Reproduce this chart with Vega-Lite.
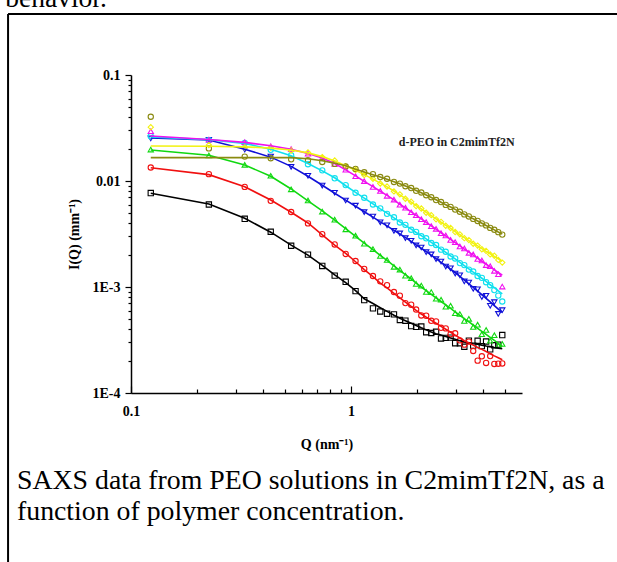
{
  "$schema": "https://vega.github.io/schema/vega-lite/v6.json",
  "width": 391,
  "height": 318,
  "autosize": {"type": "none"},
  "padding": {"left": 131, "top": 75, "right": 95, "bottom": 169},
  "background": "white",
  "config": {"view": {"stroke": null}, "font": "Liberation Serif"},
  "datasets": {
    "pts": [
      {"s":"S1","Q":0.123,"I":0.0077,"F":0.00766},{"s":"S1","Q":0.226,"I":0.006,"F":0.00607},{"s":"S1","Q":0.329,"I":0.0044,"F":0.00445},{"s":"S1","Q":0.432,"I":0.00332,"F":0.00329},{"s":"S1","Q":0.535,"I":0.00245,"F":0.00248},{"s":"S1","Q":0.638,"I":0.00202,"F":0.002},{"s":"S1","Q":0.741,"I":0.00158,"F":0.0016},{"s":"S1","Q":0.844,"I":0.00128,"F":0.0013},{"s":"S1","Q":0.947,"I":0.00112,"F":0.0011},{"s":"S1","Q":1.05,"I":0.000915,"F":0.000923},{"s":"S1","Q":1.15,"I":0.000752,"F":0.000775},{"s":"S1","Q":1.26,"I":0.000628,"F":0.000698},{"s":"S1","Q":1.36,"I":0.000587,"F":0.000638},{"s":"S1","Q":1.46,"I":0.00056,"F":0.000589},{"s":"S1","Q":1.57,"I":0.000552,"F":0.000541},{"s":"S1","Q":1.67,"I":0.000488,"F":0.000508},{"s":"S1","Q":1.77,"I":0.000481,"F":0.000481},{"s":"S1","Q":1.88,"I":0.000428,"F":0.000455},{"s":"S1","Q":1.98,"I":0.000421,"F":0.000434},{"s":"S1","Q":2.09,"I":0.000424,"F":0.000412},{"s":"S1","Q":2.2,"I":0.000374,"F":0.000394},{"s":"S1","Q":2.32,"I":0.000368,"F":0.000376},{"s":"S1","Q":2.44,"I":0.000378,"F":0.000363},{"s":"S1","Q":2.57,"I":0.000327,"F":0.000352},{"s":"S1","Q":2.7,"I":0.000331,"F":0.000341},{"s":"S1","Q":2.84,"I":0.000333,"F":0.00033},{"s":"S1","Q":2.98,"I":0.000295,"F":0.000321},{"s":"S1","Q":3.13,"I":0.000295,"F":0.000311},{"s":"S1","Q":3.28,"I":0.000273,"F":0.000303},{"s":"S1","Q":3.44,"I":0.000312,"F":0.000297},{"s":"S1","Q":3.6,"I":0.00028,"F":0.000292},{"s":"S1","Q":3.77,"I":0.000311,"F":0.000288},{"s":"S1","Q":3.94,"I":0.000277,"F":0.000283},{"s":"S1","Q":4.12,"I":0.000306,"F":0.000278},{"s":"S1","Q":4.3,"I":0.000258,"F":0.000274},{"s":"S1","Q":4.49,"I":0.000282,"F":0.000269},{"s":"S1","Q":4.68,"I":0.000286,"F":0.000265},{"s":"S1","Q":4.88,"I":0.000352,"F":0.000261},
      {"s":"S2","Q":0.123,"I":0.0134,"F":0.01334},{"s":"S2","Q":0.226,"I":0.0116,"F":0.01148},{"s":"S2","Q":0.329,"I":0.0088,"F":0.00883},{"s":"S2","Q":0.432,"I":0.0065,"F":0.00661},{"s":"S2","Q":0.535,"I":0.0051,"F":0.00507},{"s":"S2","Q":0.638,"I":0.00398,"F":0.00402},{"s":"S2","Q":0.741,"I":0.00315,"F":0.00311},{"s":"S2","Q":0.844,"I":0.00252,"F":0.00248},{"s":"S2","Q":0.947,"I":0.00205,"F":0.00208},{"s":"S2","Q":1.05,"I":0.00176,"F":0.00173},{"s":"S2","Q":1.15,"I":0.00148,"F":0.00146},{"s":"S2","Q":1.26,"I":0.00127,"F":0.00125},{"s":"S2","Q":1.36,"I":0.00113,"F":0.00109},{"s":"S2","Q":1.46,"I":0.00104,"F":0.000979},{"s":"S2","Q":1.57,"I":0.000897,"F":0.000871},{"s":"S2","Q":1.67,"I":0.000828,"F":0.000789},{"s":"S2","Q":1.77,"I":0.000705,"F":0.000719},{"s":"S2","Q":1.88,"I":0.000681,"F":0.000655},{"s":"S2","Q":1.98,"I":0.000613,"F":0.000601},{"s":"S2","Q":2.09,"I":0.000539,"F":0.000556},{"s":"S2","Q":2.2,"I":0.000536,"F":0.00052},{"s":"S2","Q":2.32,"I":0.00048,"F":0.000485},{"s":"S2","Q":2.44,"I":0.000473,"F":0.000455},{"s":"S2","Q":2.57,"I":0.000412,"F":0.000425},{"s":"S2","Q":2.7,"I":0.000407,"F":0.000399},{"s":"S2","Q":2.84,"I":0.000359,"F":0.000374},{"s":"S2","Q":2.98,"I":0.000366,"F":0.000352},{"s":"S2","Q":3.13,"I":0.000314,"F":0.00033},{"s":"S2","Q":3.28,"I":0.000286,"F":0.000311},{"s":"S2","Q":3.44,"I":0.000305,"F":0.000296},{"s":"S2","Q":3.6,"I":0.000249,"F":0.000283},{"s":"S2","Q":3.77,"I":0.000202,"F":0.000269},{"s":"S2","Q":3.94,"I":0.000222,"F":0.000258},{"s":"S2","Q":4.12,"I":0.000192,"F":0.000246},{"s":"S2","Q":4.3,"I":0.000223,"F":0.000235},{"s":"S2","Q":4.49,"I":0.000188,"F":0.000224},{"s":"S2","Q":4.68,"I":0.000189,"F":0.000215},{"s":"S2","Q":4.88,"I":0.00019,"F":0.000206},
      {"s":"S3","Q":0.123,"I":0.0198,"F":0.01959},{"s":"S3","Q":0.226,"I":0.0174,"F":0.0175},{"s":"S3","Q":0.329,"I":0.0142,"F":0.01416},{"s":"S3","Q":0.432,"I":0.0112,"F":0.01109},{"s":"S3","Q":0.535,"I":0.00835,"F":0.00841},{"s":"S3","Q":0.638,"I":0.00655,"F":0.00649},{"s":"S3","Q":0.741,"I":0.00515,"F":0.00522},{"s":"S3","Q":0.844,"I":0.00432,"F":0.00428},{"s":"S3","Q":0.947,"I":0.0035,"F":0.00356},{"s":"S3","Q":1.05,"I":0.00305,"F":0.00301},{"s":"S3","Q":1.15,"I":0.00256,"F":0.0026},{"s":"S3","Q":1.26,"I":0.00228,"F":0.00225},{"s":"S3","Q":1.36,"I":0.00196,"F":0.00199},{"s":"S3","Q":1.46,"I":0.0018,"F":0.00178},{"s":"S3","Q":1.57,"I":0.00155,"F":0.00158},{"s":"S3","Q":1.67,"I":0.00146,"F":0.00143},{"s":"S3","Q":1.77,"I":0.00128,"F":0.00131},{"s":"S3","Q":1.88,"I":0.00121,"F":0.00119},{"s":"S3","Q":1.98,"I":0.00107,"F":0.00109},{"s":"S3","Q":2.09,"I":0.00103,"F":0.001},{"s":"S3","Q":2.2,"I":0.000897,"F":0.000925},{"s":"S3","Q":2.32,"I":0.000896,"F":0.000853},{"s":"S3","Q":2.44,"I":0.000775,"F":0.000791},{"s":"S3","Q":2.57,"I":0.000759,"F":0.00073},{"s":"S3","Q":2.7,"I":0.000651,"F":0.000678},{"s":"S3","Q":2.84,"I":0.000666,"F":0.000628},{"s":"S3","Q":2.98,"I":0.000566,"F":0.000583},{"s":"S3","Q":3.13,"I":0.000556,"F":0.00054},{"s":"S3","Q":3.28,"I":0.000479,"F":0.000504},{"s":"S3","Q":3.44,"I":0.000501,"F":0.000468},{"s":"S3","Q":3.6,"I":0.00042,"F":0.000438},{"s":"S3","Q":3.77,"I":0.000441,"F":0.000408},{"s":"S3","Q":3.94,"I":0.000359,"F":0.000382},{"s":"S3","Q":4.12,"I":0.000393,"F":0.000357},{"s":"S3","Q":4.3,"I":0.000311,"F":0.000334},{"s":"S3","Q":4.49,"I":0.000351,"F":0.000313},{"s":"S3","Q":4.68,"I":0.000279,"F":0.000294},{"s":"S3","Q":4.88,"I":0.00029,"F":0.000275},
      {"s":"S4","Q":0.123,"I":0.0252,"F":0.02553},{"s":"S4","Q":0.226,"I":0.0245,"F":0.02438},{"s":"S4","Q":0.329,"I":0.0198,"F":0.01995},{"s":"S4","Q":0.432,"I":0.017,"F":0.01679},{"s":"S4","Q":0.535,"I":0.0136,"F":0.01374},{"s":"S4","Q":0.638,"I":0.0112,"F":0.01109},{"s":"S4","Q":0.741,"I":0.00905,"F":0.00912},{"s":"S4","Q":0.844,"I":0.00775,"F":0.00767},{"s":"S4","Q":0.947,"I":0.00655,"F":0.00661},{"s":"S4","Q":1.05,"I":0.00585,"F":0.00578},{"s":"S4","Q":1.15,"I":0.00508,"F":0.00513},{"s":"S4","Q":1.26,"I":0.00462,"F":0.00456},{"s":"S4","Q":1.36,"I":0.00408,"F":0.00412},{"s":"S4","Q":1.46,"I":0.00382,"F":0.00377},{"s":"S4","Q":1.57,"I":0.00338,"F":0.00342},{"s":"S4","Q":1.67,"I":0.0032,"F":0.00316},{"s":"S4","Q":1.77,"I":0.00289,"F":0.00292},{"s":"S4","Q":1.88,"I":0.00273,"F":0.00269},{"s":"S4","Q":1.98,"I":0.00247,"F":0.0025},{"s":"S4","Q":2.09,"I":0.00236,"F":0.00232},{"s":"S4","Q":2.2,"I":0.00213,"F":0.00216},{"s":"S4","Q":2.32,"I":0.00203,"F":0.002},{"s":"S4","Q":2.44,"I":0.00183,"F":0.00185},{"s":"S4","Q":2.57,"I":0.00174,"F":0.00171},{"s":"S4","Q":2.7,"I":0.00156,"F":0.00159},{"s":"S4","Q":2.84,"I":0.0015,"F":0.00147},{"s":"S4","Q":2.98,"I":0.00134,"F":0.00137},{"s":"S4","Q":3.13,"I":0.00129,"F":0.00126},{"s":"S4","Q":3.28,"I":0.00113,"F":0.00116},{"s":"S4","Q":3.44,"I":0.0011,"F":0.00107},{"s":"S4","Q":3.6,"I":0.000963,"F":0.000993},{"s":"S4","Q":3.77,"I":0.000951,"F":0.000914},{"s":"S4","Q":3.94,"I":0.000805,"F":0.000847},{"s":"S4","Q":4.12,"I":0.000827,"F":0.00078},{"s":"S4","Q":4.3,"I":0.000665,"F":0.000723},{"s":"S4","Q":4.49,"I":0.00072,"F":0.000667},{"s":"S4","Q":4.68,"I":0.000557,"F":0.000619},{"s":"S4","Q":4.88,"I":0.000604,"F":0.000575},
      {"s":"S5","Q":0.123,"I":0.0265,"F":0.026},{"s":"S5","Q":0.226,"I":0.0243,"F":0.02455},{"s":"S5","Q":0.329,"I":0.0228,"F":0.02265},{"s":"S5","Q":0.432,"I":0.0197,"F":0.01995},{"s":"S5","Q":0.535,"I":0.0175,"F":0.0173},{"s":"S5","Q":0.638,"I":0.0144,"F":0.01462},{"s":"S5","Q":0.741,"I":0.0126,"F":0.01245},{"s":"S5","Q":0.844,"I":0.0106,"F":0.01072},{"s":"S5","Q":0.947,"I":0.00915,"F":0.00902},{"s":"S5","Q":1.05,"I":0.00775,"F":0.00782},{"s":"S5","Q":1.15,"I":0.00695,"F":0.00689},{"s":"S5","Q":1.26,"I":0.006,"F":0.00608},{"s":"S5","Q":1.36,"I":0.00552,"F":0.00546},{"s":"S5","Q":1.46,"I":0.0049,"F":0.00497},{"s":"S5","Q":1.57,"I":0.00455,"F":0.00449},{"s":"S5","Q":1.67,"I":0.00406,"F":0.00412},{"s":"S5","Q":1.77,"I":0.00386,"F":0.00381},{"s":"S5","Q":1.88,"I":0.00347,"F":0.00352},{"s":"S5","Q":1.98,"I":0.00331,"F":0.00327},{"s":"S5","Q":2.09,"I":0.00301,"F":0.00305},{"s":"S5","Q":2.2,"I":0.00288,"F":0.00284},{"s":"S5","Q":2.32,"I":0.0026,"F":0.00264},{"s":"S5","Q":2.44,"I":0.00249,"F":0.00246},{"s":"S5","Q":2.57,"I":0.00225,"F":0.00228},{"s":"S5","Q":2.7,"I":0.00215,"F":0.00212},{"s":"S5","Q":2.84,"I":0.00194,"F":0.00197},{"s":"S5","Q":2.98,"I":0.00186,"F":0.00184},{"s":"S5","Q":3.13,"I":0.00168,"F":0.00171},{"s":"S5","Q":3.28,"I":0.00161,"F":0.00159},{"s":"S5","Q":3.44,"I":0.00146,"F":0.00148},{"s":"S5","Q":3.6,"I":0.0014,"F":0.00138},{"s":"S5","Q":3.77,"I":0.00127,"F":0.00129},{"s":"S5","Q":3.94,"I":0.00122,"F":0.00121},{"s":"S5","Q":4.12,"I":0.00111,"F":0.00113},{"s":"S5","Q":4.3,"I":0.00104,"F":0.00105},{"s":"S5","Q":4.49,"I":0.000935,"F":0.000984},{"s":"S5","Q":4.68,"I":0.00083,"F":0.00092},{"s":"S5","Q":4.88,"I":0.00073,"F":0.000861},
      {"s":"S6","Q":0.123,"I":0.0295,"F":0.02661},{"s":"S6","Q":0.226,"I":0.0245,"F":0.02466},{"s":"S6","Q":0.329,"I":0.0232,"F":0.02312},{"s":"S6","Q":0.432,"I":0.0213,"F":0.02148},{"s":"S6","Q":0.535,"I":0.02,"F":0.01995},{"s":"S6","Q":0.638,"I":0.0181,"F":0.0182},{"s":"S6","Q":0.741,"I":0.0166,"F":0.01648},{"s":"S6","Q":0.844,"I":0.0145,"F":0.01462},{"s":"S6","Q":0.947,"I":0.0128,"F":0.01274},{"s":"S6","Q":1.05,"I":0.0111,"F":0.01117},{"s":"S6","Q":1.15,"I":0.00998,"F":0.00993},{"s":"S6","Q":1.26,"I":0.0088,"F":0.00885},{"s":"S6","Q":1.36,"I":0.00805,"F":0.008},{"s":"S6","Q":1.46,"I":0.00725,"F":0.00731},{"s":"S6","Q":1.57,"I":0.00668,"F":0.00664},{"s":"S6","Q":1.67,"I":0.00598,"F":0.00603},{"s":"S6","Q":1.77,"I":0.0056,"F":0.00556},{"s":"S6","Q":1.88,"I":0.00507,"F":0.00511},{"s":"S6","Q":1.98,"I":0.00476,"F":0.00473},{"s":"S6","Q":2.09,"I":0.00436,"F":0.00439},{"s":"S6","Q":2.2,"I":0.0041,"F":0.00407},{"s":"S6","Q":2.32,"I":0.00375,"F":0.00378},{"s":"S6","Q":2.44,"I":0.00354,"F":0.00351},{"s":"S6","Q":2.57,"I":0.00322,"F":0.00325},{"s":"S6","Q":2.7,"I":0.00306,"F":0.00303},{"s":"S6","Q":2.84,"I":0.00278,"F":0.00281},{"s":"S6","Q":2.98,"I":0.00265,"F":0.00262},{"s":"S6","Q":3.13,"I":0.00241,"F":0.00244},{"s":"S6","Q":3.28,"I":0.00231,"F":0.00228},{"s":"S6","Q":3.44,"I":0.0021,"F":0.00213},{"s":"S6","Q":3.6,"I":0.00203,"F":0.002},{"s":"S6","Q":3.77,"I":0.00184,"F":0.00187},{"s":"S6","Q":3.94,"I":0.00178,"F":0.00175},{"s":"S6","Q":4.12,"I":0.00161,"F":0.00164},{"s":"S6","Q":4.3,"I":0.00157,"F":0.00155},{"s":"S6","Q":4.49,"I":0.00142,"F":0.00145},{"s":"S6","Q":4.68,"I":0.00132,"F":0.00137},{"s":"S6","Q":4.88,"I":0.00101,"F":0.00129},
      {"s":"S7","Q":0.123,"I":0.0322,"F":0.02138},{"s":"S7","Q":0.226,"I":0.0218,"F":0.02128},{"s":"S7","Q":0.329,"I":0.0208,"F":0.02099},{"s":"S7","Q":0.432,"I":0.0206,"F":0.02042},{"s":"S7","Q":0.535,"I":0.0194,"F":0.01959},{"s":"S7","Q":0.638,"I":0.0186,"F":0.01841},{"s":"S7","Q":0.741,"I":0.0168,"F":0.01698},{"s":"S7","Q":0.844,"I":0.0156,"F":0.01542},{"s":"S7","Q":0.947,"I":0.0138,"F":0.0139},{"s":"S7","Q":1.05,"I":0.0127,"F":0.01259},{"s":"S7","Q":1.15,"I":0.0114,"F":0.01148},{"s":"S7","Q":1.26,"I":0.0105,"F":0.01042},{"s":"S7","Q":1.36,"I":0.00948,"F":0.00955},{"s":"S7","Q":1.46,"I":0.00888,"F":0.00881},{"s":"S7","Q":1.57,"I":0.00798,"F":0.00805},{"s":"S7","Q":1.67,"I":0.00748,"F":0.00741},{"s":"S7","Q":1.77,"I":0.0068,"F":0.00686},{"s":"S7","Q":1.88,"I":0.00637,"F":0.00631},{"s":"S7","Q":1.98,"I":0.0058,"F":0.00586},{"s":"S7","Q":2.09,"I":0.0055,"F":0.00545},{"s":"S7","Q":2.2,"I":0.00502,"F":0.00507},{"s":"S7","Q":2.32,"I":0.00476,"F":0.00471},{"s":"S7","Q":2.44,"I":0.00435,"F":0.0044},{"s":"S7","Q":2.57,"I":0.00412,"F":0.00408},{"s":"S7","Q":2.7,"I":0.00378,"F":0.00382},{"s":"S7","Q":2.84,"I":0.0036,"F":0.00357},{"s":"S7","Q":2.98,"I":0.0033,"F":0.00333},{"s":"S7","Q":3.13,"I":0.00314,"F":0.00311},{"s":"S7","Q":3.28,"I":0.00289,"F":0.00292},{"s":"S7","Q":3.44,"I":0.00277,"F":0.00274},{"s":"S7","Q":3.6,"I":0.00256,"F":0.00259},{"s":"S7","Q":3.77,"I":0.00246,"F":0.00244},{"s":"S7","Q":3.94,"I":0.00227,"F":0.0023},{"s":"S7","Q":4.12,"I":0.00219,"F":0.00217},{"s":"S7","Q":4.3,"I":0.00203,"F":0.00206},{"s":"S7","Q":4.49,"I":0.00197,"F":0.00194},{"s":"S7","Q":4.68,"I":0.0018,"F":0.00184},{"s":"S7","Q":4.88,"I":0.0017,"F":0.00175},
      {"s":"S8","Q":0.123,"I":0.0404,"F":0.0166},{"s":"S8","Q":0.226,"I":0.0203,"F":0.0166},{"s":"S8","Q":0.329,"I":0.017,"F":0.0166},{"s":"S8","Q":0.432,"I":0.0164,"F":0.0166},{"s":"S8","Q":0.535,"I":0.016,"F":0.0166},{"s":"S8","Q":0.638,"I":0.0157,"F":0.0162},{"s":"S8","Q":0.741,"I":0.0151,"F":0.0155},{"s":"S8","Q":0.844,"I":0.0145,"F":0.0147},{"s":"S8","Q":0.947,"I":0.0137,"F":0.0139},{"s":"S8","Q":1.05,"I":0.013,"F":0.01288},{"s":"S8","Q":1.15,"I":0.0121,"F":0.01216},{"s":"S8","Q":1.26,"I":0.0116,"F":0.01148},{"s":"S8","Q":1.36,"I":0.0109,"F":0.01091},{"s":"S8","Q":1.46,"I":0.0105,"F":0.0104},{"s":"S8","Q":1.57,"I":0.0098,"F":0.00986},{"s":"S8","Q":1.67,"I":0.00945,"F":0.0094},{"s":"S8","Q":1.77,"I":0.00892,"F":0.00897},{"s":"S8","Q":1.88,"I":0.00858,"F":0.00853},{"s":"S8","Q":1.98,"I":0.00808,"F":0.00813},{"s":"S8","Q":2.09,"I":0.00779,"F":0.00775},{"s":"S8","Q":2.2,"I":0.00734,"F":0.00738},{"s":"S8","Q":2.32,"I":0.00703,"F":0.007},{"s":"S8","Q":2.44,"I":0.00661,"F":0.00665},{"s":"S8","Q":2.57,"I":0.00633,"F":0.0063},{"s":"S8","Q":2.7,"I":0.00595,"F":0.00598},{"s":"S8","Q":2.84,"I":0.0057,"F":0.00568},{"s":"S8","Q":2.98,"I":0.00537,"F":0.0054},{"s":"S8","Q":3.13,"I":0.00513,"F":0.00511},{"s":"S8","Q":3.28,"I":0.00484,"F":0.00486},{"s":"S8","Q":3.44,"I":0.00463,"F":0.00461},{"s":"S8","Q":3.6,"I":0.00439,"F":0.00441},{"s":"S8","Q":3.77,"I":0.0042,"F":0.00419},{"s":"S8","Q":3.94,"I":0.00398,"F":0.004},{"s":"S8","Q":4.12,"I":0.00381,"F":0.0038},{"s":"S8","Q":4.3,"I":0.00361,"F":0.00363},{"s":"S8","Q":4.49,"I":0.00347,"F":0.00346},{"s":"S8","Q":4.68,"I":0.00329,"F":0.0033},{"s":"S8","Q":4.88,"I":0.00312,"F":0.00316}
    ]
  },
  "layer": [
    {
      "data": {"name": "pts"},
      "mark": {"type": "point", "filled": false, "size": 28, "opacity": 1},
      "encoding": {
        "x": {
          "field": "Q", "type": "quantitative",
          "scale": {"type": "log", "domain": [0.1, 6], "nice": false},
          "axis": {
            "values": [0.1, 0.2, 0.3, 0.4, 0.5, 0.6, 0.7, 0.8, 0.9, 1, 2, 3, 4, 5],
            "labelExpr": "datum.value == 0.1 ? '0.1' : datum.value == 1 ? '1' : ''",
            "tickSize": {"condition": {"test": "datum.value == 0.1 || datum.value == 1", "value": -7}, "value": -4},
            "tickColor": "black", "tickWidth": 1.2, "domainColor": "black", "domainWidth": 1.5,
            "labelFont": "Liberation Serif", "labelFontWeight": "bold", "labelFontSize": 14, "labelColor": "black",
            "labelPadding": 18, "labelFlush": false, "labelOverlap": false, "grid": false,
            "title": "Q (nm⁻¹)", "titleFont": "Liberation Serif", "titleFontWeight": "bold", "titleFontSize": 14,
            "titleColor": "black", "titlePadding": 16
          }
        },
        "y": {
          "field": "I", "type": "quantitative",
          "scale": {"type": "log", "domain": [0.0001, 0.1], "nice": false},
          "axis": {
            "values": [0.0001, 0.0002, 0.0003, 0.0004, 0.0005, 0.0006, 0.0007, 0.0008, 0.0009, 0.001, 0.002, 0.003, 0.004, 0.005, 0.006, 0.007, 0.008, 0.009, 0.01, 0.02, 0.03, 0.04, 0.05, 0.06, 0.07, 0.08, 0.09, 0.1],
            "labelExpr": "datum.value == 0.1 ? '0.1' : datum.value == 0.01 ? '0.01' : datum.value == 0.001 ? '1E-3' : datum.value == 0.0001 ? '1E-4' : ''",
            "tickSize": {"condition": {"test": "datum.value == 0.1 || datum.value == 0.01 || datum.value == 0.001 || datum.value == 0.0001", "value": 6}, "value": 3},
            "tickColor": "black", "tickWidth": 1.2, "domainColor": "black", "domainWidth": 1.5,
            "labelFont": "Liberation Serif", "labelFontWeight": "bold", "labelFontSize": 14, "labelColor": "black",
            "labelPadding": 5, "labelFlush": false, "labelOverlap": false, "grid": false,
            "title": "I(Q) (mm⁻¹)", "titleFont": "Liberation Serif", "titleFontWeight": "bold", "titleFontSize": 14,
            "titleColor": "black", "titlePadding": 11
          }
        },
        "color": {
          "field": "s", "type": "nominal", "legend": null,
          "scale": {"domain": ["S1","S2","S3","S4","S5","S6","S7","S8"], "range": ["#000000","#F01010","#10D810","#1010D8","#10E0EE","#F010F0","#F2F210","#8A8A10"]}
        },
        "shape": {
          "field": "s", "type": "nominal", "legend": null,
          "scale": {"domain": ["S1","S2","S3","S4","S5","S6","S7","S8"], "range": ["square","circle","triangle-up","triangle-down","circle","triangle-up","diamond","circle"]}
        },
        "strokeWidth": {
          "field": "s", "type": "nominal", "legend": null,
          "scale": {"domain": ["S1","S2","S3","S4","S5","S6","S7","S8"], "range": [1.1, 1.1, 1.4, 1.4, 1.2, 1.2, 2.4, 1.2]}
        }
      }
    },
    {
      "data": {"name": "pts"},
      "mark": {"type": "line", "strokeWidth": 1.6},
      "encoding": {
        "x": {"field": "Q", "type": "quantitative"},
        "y": {"field": "F", "type": "quantitative"},
        "color": {"field": "s", "type": "nominal", "legend": null},
        "detail": {"field": "s"}
      }
    },
    {
      "data": {"values": [{}]},
      "mark": {"type": "text", "font": "Liberation Serif", "fontWeight": "bold", "fontSize": 12, "color": "#222222", "align": "center", "baseline": "middle"},
      "encoding": {
        "x": {"datum": 3.03},
        "y": {"datum": 0.0233},
        "text": {"value": "d-PEO in C2mimTf2N"}
      }
    },
    {
      "data": {"values": [{}]},
      "mark": {"type": "text", "clip": false, "font": "Liberation Serif", "fontSize": 27.5, "color": "black", "align": "left", "baseline": "alphabetic"},
      "encoding": {
        "x": {"datum": 0.0268},
        "y": {"datum": 0.438},
        "text": {"value": "behavior."}
      }
    },
    {
      "data": {"values": [{}]},
      "mark": {"type": "text", "clip": false, "font": "Liberation Serif", "fontSize": 27.8, "lineHeight": 31, "color": "black", "align": "left", "baseline": "alphabetic"},
      "encoding": {
        "x": {"datum": 0.0303},
        "y": {"datum": 0.00001243},
        "text": {"value": ["SAXS data from PEO solutions in C2mimTf2N, as a", "function of polymer concentration."]}
      }
    },
    {
      "data": {"values": [{}]},
      "mark": {"type": "rule", "clip": false, "strokeWidth": 2, "color": "black"},
      "encoding": {"x": {"datum": 0.0276}, "y": {"datum": 0.376}, "y2": {"datum": 0.0000001}}
    },
    {
      "data": {"values": [{}]},
      "mark": {"type": "rule", "clip": false, "strokeWidth": 2, "color": "black"},
      "encoding": {"x": {"datum": 0.0276}, "x2": {"datum": 100}, "y": {"datum": 0.376}}
    }
  ]
}
